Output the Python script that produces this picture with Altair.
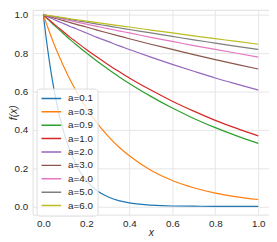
import altair as alt
import pandas as pd

x_vals = [0.0, 0.01, 0.02, 0.03, 0.05, 0.075, 0.1, 0.125, 0.15, 0.2, 0.25, 0.3,
          0.35, 0.4, 0.5, 0.6, 0.7, 0.8, 0.9, 1.0]

labels = ["a=0.1", "a=0.3", "a=0.9", "a=1.0", "a=2.0", "a=3.0", "a=4.0", "a=5.0", "a=6.0"]
colors = ["#1f77b4", "#ff7f0e", "#2ca02c", "#d62728", "#9467bd",
          "#8c564b", "#e377c2", "#7f7f7f", "#bcbd22"]

f_a01 = [1.0, 0.905, 0.819, 0.741, 0.607, 0.472, 0.368, 0.287, 0.223, 0.135, 0.082, 0.050,
         0.030, 0.018, 0.007, 0.002, 0.001, 0.0, 0.0, 0.0]
f_a03 = [1.0, 0.967, 0.936, 0.905, 0.846, 0.779, 0.717, 0.659, 0.607, 0.513, 0.435, 0.368,
         0.311, 0.264, 0.189, 0.135, 0.097, 0.069, 0.050, 0.036]
f_a09 = [1.0, 0.989, 0.978, 0.967, 0.946, 0.920, 0.895, 0.870, 0.846, 0.801, 0.757, 0.717,
         0.678, 0.641, 0.574, 0.513, 0.459, 0.411, 0.368, 0.329]
f_a10 = [1.0, 0.990, 0.980, 0.970, 0.951, 0.928, 0.905, 0.882, 0.861, 0.819, 0.779, 0.741,
         0.705, 0.670, 0.607, 0.549, 0.497, 0.449, 0.407, 0.368]
f_a20 = [1.0, 0.995, 0.990, 0.985, 0.975, 0.963, 0.951, 0.939, 0.928, 0.905, 0.882, 0.861,
         0.839, 0.819, 0.779, 0.741, 0.705, 0.670, 0.638, 0.607]
f_a30 = [1.0, 0.997, 0.993, 0.990, 0.983, 0.975, 0.967, 0.959, 0.951, 0.936, 0.920, 0.905,
         0.890, 0.875, 0.846, 0.819, 0.792, 0.766, 0.741, 0.717]
f_a40 = [1.0, 0.998, 0.995, 0.993, 0.988, 0.981, 0.975, 0.969, 0.963, 0.951, 0.939, 0.928,
         0.916, 0.905, 0.882, 0.861, 0.839, 0.819, 0.799, 0.779]
f_a50 = [1.0, 0.998, 0.996, 0.994, 0.990, 0.985, 0.980, 0.975, 0.970, 0.961, 0.951, 0.942,
         0.932, 0.923, 0.905, 0.887, 0.869, 0.852, 0.835, 0.819]
f_a60 = [1.0, 0.998, 0.997, 0.995, 0.992, 0.988, 0.984, 0.979, 0.975, 0.967, 0.959, 0.951,
         0.943, 0.936, 0.920, 0.905, 0.890, 0.875, 0.861, 0.846]

series = [f_a01, f_a03, f_a09, f_a10, f_a20, f_a30, f_a40, f_a50, f_a60]

rows = []
for lab, vals in zip(labels, series):
    for xv, fv in zip(x_vals, vals):
        rows.append({"x": xv, "f": fv, "a": lab})
df = pd.DataFrame(rows)

ticks = [0.0, 0.2, 0.4, 0.6, 0.8, 1.0]
FONT = "Liberation Sans"

chart = alt.Chart(df).mark_line(strokeWidth=1.2, interpolate="monotone").encode(
    x=alt.X("x:Q",
            scale=alt.Scale(domain=[-0.05, 1.05], nice=False, zero=False),
            axis=alt.Axis(values=ticks, format=".1f", title="x",
                          titleY=21, titleBaseline="alphabetic", labelPadding=4)),
    y=alt.Y("f:Q",
            scale=alt.Scale(domain=[-0.043, 1.026], nice=False, zero=False),
            axis=alt.Axis(values=ticks, format=".1f", title="f(x)",
                          titleX=-19, titleAngle=270, titleBaseline="middle",
                          labelPadding=5)),
    color=alt.Color("a:N", sort=labels,
                    scale=alt.Scale(domain=labels, range=colors),
                    legend=alt.Legend(orient="none", legendX=4, legendY=80, title=None,
                                      padding=4, clipHeight=12, rowPadding=1.6,
                                      symbolType="stroke", symbolSize=400,
                                      symbolStrokeWidth=1.5, symbolOffset=0,
                                      labelOffset=6, labelFontSize=10, labelFont=FONT,
                                      labelColor="#262626",
                                      fillColor="rgba(255,255,255,0.8)",
                                      strokeColor="#dcdcdc", cornerRadius=3)),
).properties(
    width=240, height=208,
    padding={"left": 25, "top": 0, "right": 0, "bottom": 26},
    autosize=alt.AutoSizeParams(type="none"),
).configure_view(
    stroke="#dedede", strokeWidth=1
).configure_axis(
    domain=False, ticks=False, tickSize=0,
    grid=True, gridColor="#e6e6e6", gridWidth=1,
    labelFont=FONT, labelFontSize=10, labelColor="#262626",
    titleFont=FONT, titleFontSize=10.5, titleFontStyle="italic",
    titleFontWeight="normal", titleColor="#262626",
)

chart.save("out.html", embed_options={"renderer": "svg", "actions": False})
